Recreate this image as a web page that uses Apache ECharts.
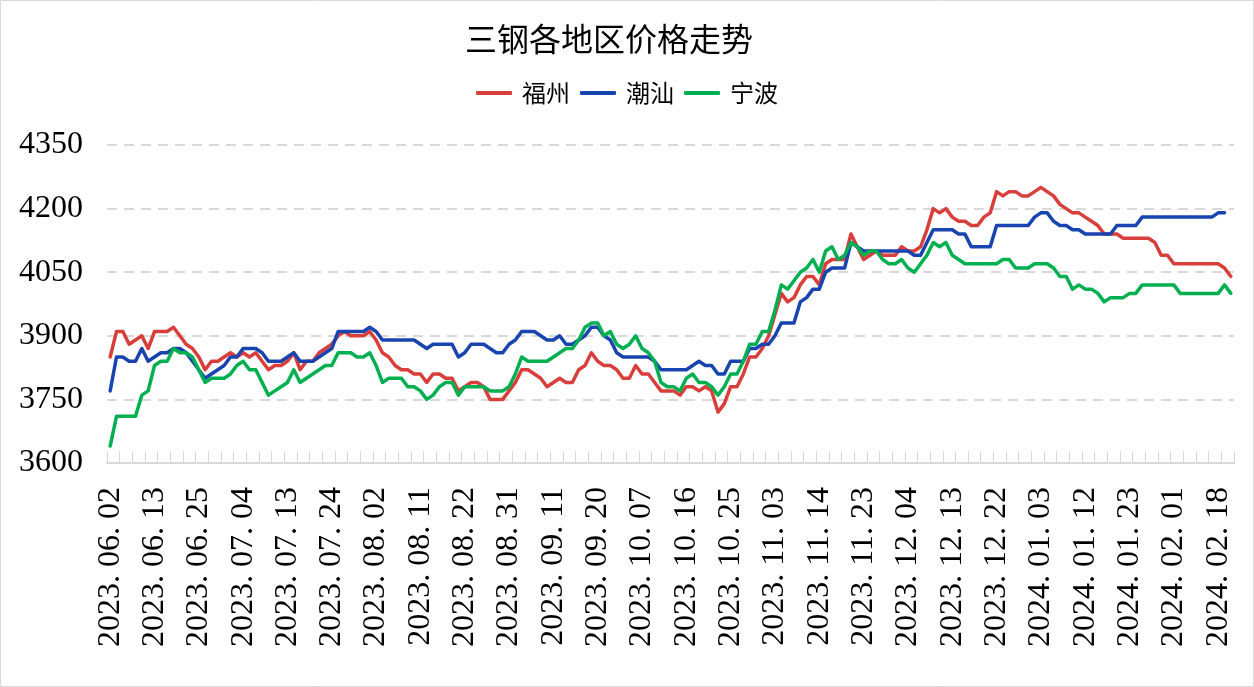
<!DOCTYPE html>
<html>
<head>
<meta charset="utf-8">
<title>三钢各地区价格走势</title>
<script src="https://cdn.jsdelivr.net/npm/echarts@6.0.0/dist/echarts.min.js"></script>
<style>
html, body { margin: 0; padding: 0; background: #fff; }
#chart { width: 1254px; height: 687px; }
</style>
</head>
<body>
<div id="chart"></div>
<script>
// 日期（工作日）
let dates = [
    '2023.06.02','2023.06.05','2023.06.06','2023.06.07','2023.06.08','2023.06.09','2023.06.12','2023.06.13','2023.06.14','2023.06.15',
    '2023.06.16','2023.06.19','2023.06.20','2023.06.21','2023.06.25','2023.06.26','2023.06.27','2023.06.28','2023.06.29','2023.06.30',
    '2023.07.03','2023.07.04','2023.07.05','2023.07.06','2023.07.07','2023.07.10','2023.07.11','2023.07.12','2023.07.13','2023.07.14',
    '2023.07.17','2023.07.18','2023.07.19','2023.07.20','2023.07.21','2023.07.24','2023.07.25','2023.07.26','2023.07.27','2023.07.28',
    '2023.07.31','2023.08.01','2023.08.02','2023.08.03','2023.08.04','2023.08.07','2023.08.08','2023.08.09','2023.08.10','2023.08.11',
    '2023.08.14','2023.08.15','2023.08.16','2023.08.17','2023.08.18','2023.08.21','2023.08.22','2023.08.23','2023.08.24','2023.08.25',
    '2023.08.28','2023.08.29','2023.08.30','2023.08.31','2023.09.01','2023.09.04','2023.09.05','2023.09.06','2023.09.07','2023.09.08',
    '2023.09.11','2023.09.12','2023.09.13','2023.09.14','2023.09.15','2023.09.18','2023.09.19','2023.09.20','2023.09.21','2023.09.22',
    '2023.09.25','2023.09.26','2023.09.27','2023.09.28','2023.10.07','2023.10.08','2023.10.09','2023.10.10','2023.10.11','2023.10.12',
    '2023.10.13','2023.10.16','2023.10.17','2023.10.18','2023.10.19','2023.10.20','2023.10.23','2023.10.24','2023.10.25','2023.10.26',
    '2023.10.27','2023.10.30','2023.10.31','2023.11.01','2023.11.02','2023.11.03','2023.11.06','2023.11.07','2023.11.08','2023.11.09',
    '2023.11.10','2023.11.13','2023.11.14','2023.11.15','2023.11.16','2023.11.17','2023.11.20','2023.11.21','2023.11.22','2023.11.23',
    '2023.11.24','2023.11.27','2023.11.28','2023.11.29','2023.11.30','2023.12.01','2023.12.04','2023.12.05','2023.12.06','2023.12.07',
    '2023.12.08','2023.12.11','2023.12.12','2023.12.13','2023.12.14','2023.12.15','2023.12.18','2023.12.19','2023.12.20','2023.12.21',
    '2023.12.22','2023.12.25','2023.12.26','2023.12.27','2023.12.28','2023.12.29','2024.01.02','2024.01.03','2024.01.04','2024.01.05',
    '2024.01.08','2024.01.09','2024.01.10','2024.01.11','2024.01.12','2024.01.15','2024.01.16','2024.01.17','2024.01.18','2024.01.19',
    '2024.01.22','2024.01.23','2024.01.24','2024.01.25','2024.01.26','2024.01.29','2024.01.30','2024.01.31','2024.02.01','2024.02.02',
    '2024.02.04','2024.02.05','2024.02.06','2024.02.07','2024.02.08','2024.02.18','2024.02.19','2024.02.20'
];

let fuzhou = [
    3850,3910,3910,3880,3890,3900,3870,3910,3910,3910,
    3920,3900,3880,3870,3850,3820,3840,3840,3850,3860,
    3850,3860,3850,3860,3840,3820,3830,3830,3840,3860,
    3820,3840,3840,3860,3870,3880,3900,3910,3900,3900,
    3900,3910,3890,3860,3850,3830,3820,3820,3810,3810,
    3790,3810,3810,3800,3800,3770,3780,3790,3790,3780,
    3750,3750,3750,3770,3790,3820,3820,3810,3800,3780,
    3790,3800,3790,3790,3820,3830,3860,3840,3830,3830,
    3820,3800,3800,3830,3810,3810,3790,3770,3770,3770,
    3760,3780,3780,3770,3780,3770,3720,3740,3780,3780,
    3810,3850,3850,3870,3900,3950,4000,3980,3990,4020,
    4040,4040,4020,4070,4080,4080,4080,4140,4110,4080,
    4090,4100,4090,4090,4090,4110,4100,4100,4110,4150,
    4200,4190,4200,4180,4170,4170,4160,4160,4180,4190,
    4240,4230,4240,4240,4230,4230,4240,4250,4240,4230,
    4210,4200,4190,4190,4180,4170,4160,4140,4140,4140,
    4130,4130,4130,4130,4130,4120,4090,4090,4070,4070,
    4070,4070,4070,4070,4070,4070,4060,4040
];

let chaoshan = [
    3770,3850,3850,3840,3840,3870,3840,3850,3860,3860,
    3870,3870,3860,3840,3820,3800,3810,3820,3830,3850,
    3850,3870,3870,3870,3860,3840,3840,3840,3850,3860,
    3840,3840,3840,3850,3860,3870,3910,3910,3910,3910,
    3910,3920,3910,3890,3890,3890,3890,3890,3890,3880,
    3870,3880,3880,3880,3880,3850,3860,3880,3880,3880,
    3870,3860,3860,3880,3890,3910,3910,3910,3900,3890,
    3890,3900,3880,3880,3890,3900,3920,3920,3900,3890,
    3860,3850,3850,3850,3850,3850,3840,3820,3820,3820,
    3820,3820,3830,3840,3830,3830,3810,3810,3840,3840,
    3840,3870,3870,3880,3880,3900,3930,3930,3930,3980,
    3990,4010,4010,4050,4060,4060,4060,4120,4110,4100,
    4100,4100,4100,4100,4100,4100,4100,4090,4090,4120,
    4150,4150,4150,4150,4140,4140,4110,4110,4110,4110,
    4160,4160,4160,4160,4160,4160,4180,4190,4190,4170,
    4160,4160,4150,4150,4140,4140,4140,4140,4140,4160,
    4160,4160,4160,4180,4180,4180,4180,4180,4180,4180,
    4180,4180,4180,4180,4180,4190,4190,null
];

let ningbo = [
    3640,3710,3710,3710,3710,3760,3770,3830,3840,3840,
    3870,3860,3860,3850,3820,3790,3800,3800,3800,3810,
    3830,3840,3820,3820,3790,3760,3770,3780,3790,3820,
    3790,3800,3810,3820,3830,3830,3860,3860,3860,3850,
    3850,3860,3830,3790,3800,3800,3800,3780,3780,3770,
    3750,3760,3780,3790,3790,3760,3780,3780,3780,3780,
    3770,3770,3770,3780,3810,3850,3840,3840,3840,3840,
    3850,3860,3870,3870,3890,3920,3930,3930,3900,3910,
    3880,3870,3880,3900,3870,3860,3840,3790,3780,3780,
    3770,3800,3810,3790,3790,3780,3760,3780,3810,3810,
    3840,3880,3880,3910,3910,3960,4020,4010,4030,4050,
    4060,4080,4050,4100,4110,4080,4090,4120,4110,4090,
    4100,4100,4080,4070,4070,4080,4060,4050,4070,4090,
    4120,4110,4120,4090,4080,4070,4070,4070,4070,4070,
    4070,4080,4080,4060,4060,4060,4070,4070,4070,4060,
    4040,4040,4010,4020,4010,4010,4000,3980,3990,3990,
    3990,4000,4000,4020,4020,4020,4020,4020,4020,4000,
    4000,4000,4000,4000,4000,4000,4020,4000
];

let seriesNames = ['福州', '潮汕', '宁波'];
let seriesColors = ['#d83f3a', '#1844b0', '#00b050'];

window.onload = function() {
    drawChart();
}

function drawChart() {
    let myChart = echarts.init(document.getElementById('chart'));
    let serif = '"Liberation Serif", "DejaVu Serif", serif';
    let cjk = '"Noto Sans CJK SC", sans-serif';

    let seriesData = [fuzhou, chaoshan, ningbo];
    let series = seriesNames.map(function(name, i) {
        return {
            name: name,
            type: 'line',
            data: seriesData[i],
            symbol: 'none',
            connectNulls: false,
            lineStyle: { width: 3.5, color: seriesColors[i], join: 'round', cap: 'round' },
            itemStyle: { color: seriesColors[i] }
        };
    });

    let option = {
        backgroundColor: '#fff',
        animation: false,
        graphic: [{
            type: 'rect',
            shape: { x: 0.5, y: 0.5, width: 1253, height: 686 },
            style: { fill: 'none', stroke: '#d9d9d9', lineWidth: 1 },
            silent: true
        }],
        title: {
            text: '三钢各地区价格走势',
            left: 460,
            top: 18,
            textStyle: { fontFamily: cjk, fontSize: 32, fontWeight: 'normal', color: '#000' }
        },
        legend: {
            data: seriesNames,
            left: 'center',
            top: 76,
            icon: 'roundRect',
            itemWidth: 36,
            itemHeight: 4,
            itemGap: 10,
            textStyle: { fontFamily: cjk, fontSize: 24, color: '#000', padding: [0, 0, 0, 5] }
        },
        grid: {
            left: 107,
            right: 20,
            top: 145,
            bottom: 224
        },
        xAxis: {
            type: 'category',
            data: dates,
            boundaryGap: true,
            axisLine: { lineStyle: { color: '#d9d9d9', width: 2 } },
            axisTick: {
                show: true,
                interval: 1,
                inside: true,
                length: 12,
                lineStyle: { color: '#d9d9d9', width: 1 }
            },
            axisLabel: {
                interval: 6,
                rotate: 90,
                margin: 24,
                fontFamily: serif,
                fontSize: 32,
                color: '#000',
                formatter: function(v) { return v.replace(/\./g, '. '); }
            }
        },
        yAxis: {
            type: 'value',
            min: 3600,
            max: 4350,
            interval: 150,
            axisLine: { show: false },
            axisTick: { show: false },
            axisLabel: {
                margin: 24,
                fontFamily: serif,
                fontSize: 32,
                color: '#000',
                formatter: function(v) { return String(v); }
            },
            splitLine: { lineStyle: { type: [10, 7], color: '#d9d9d9', width: 2 } }
        },
        series: series
    };
    myChart.setOption(option);
}
</script>
</body>
</html>
